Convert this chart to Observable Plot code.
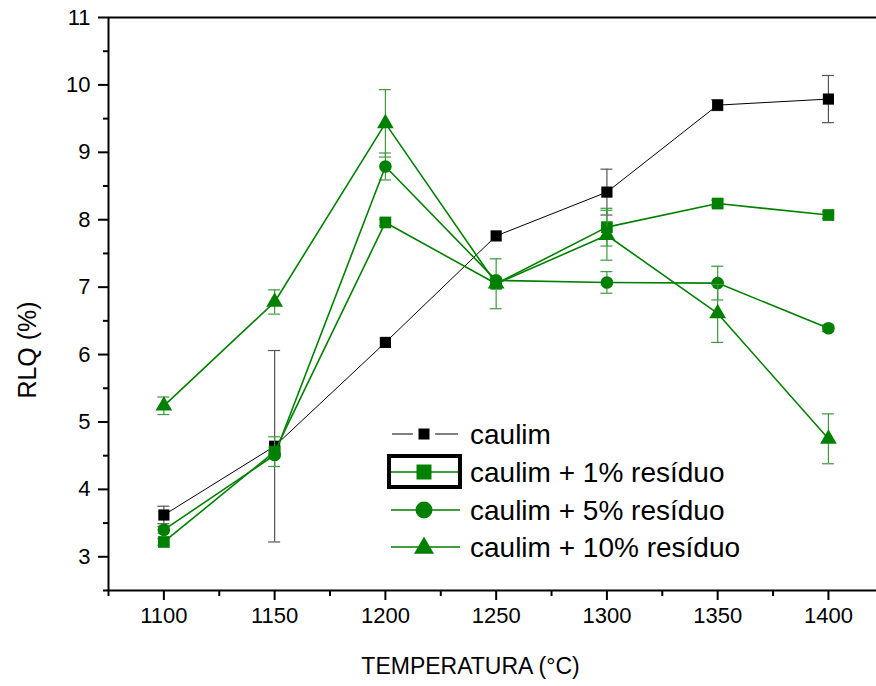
<!DOCTYPE html>
<html><head><meta charset="utf-8">
<script src="https://cdn.jsdelivr.net/npm/d3@7"></script>
<script src="https://cdn.jsdelivr.net/npm/@observablehq/plot@0.6"></script>
<style>
body{margin:0;background:#fff;}
#wrap{position:relative;width:876px;height:686px;font-family:"Liberation Sans",Arial,sans-serif;}
#wrap svg{display:block;}
#legend{position:absolute;left:0;top:0;pointer-events:none;}
</style></head><body><div id="wrap"></div>
<script>
// ---- data ----
const temperatures = [1100, 1150, 1200, 1250, 1300, 1350, 1400];
const seriesNames = ["caulim", "caulim + 1% resíduo", "caulim + 5% resíduo", "caulim + 10% resíduo"];
const caulim     = [3.62, 4.64, 6.18, 7.76, 8.41, 9.70, 9.79];
const caulimErr  = [0.13, 1.42, 0.00, 0.00, 0.34, 0.08, 0.35];
const res1       = [3.22, 4.56, 7.96, 7.05, 7.89, 8.24, 8.07];
const res1Err    = [0.05, 0.22, 0.05, 0.05, 0.28, 0.05, 0.05];
const res5       = [3.40, 4.51, 8.79, 7.10, 7.07, 7.06, 6.39];
const res5Err    = [0.05, 0.05, 0.20, 0.05, 0.16, 0.25, 0.05];
const res10      = [5.24, 6.78, 9.43, 7.05, 7.77, 6.61, 4.75];
const res10Err   = [0.13, 0.18, 0.50, 0.37, 0.37, 0.43, 0.37];
const yTicks = [3, 4, 5, 6, 7, 8, 9, 10, 11];
const yMinorTicks = [2.5, 3.5, 4.5, 5.5, 6.5, 7.5, 8.5, 9.5, 10.5];
const xTicks = [1100, 1150, 1200, 1250, 1300, 1350, 1400];
const xMinorTicks = [1075, 1125, 1175, 1225, 1275, 1325, 1375];
const xTitle = "TEMPERATURA (°C)";
const yTitle = "RLQ (%)";

// ---- styles ----
const GREEN = "#008000";
const styles = [
  {color: "#000", errColor: "#555", symbol: "square", r: 6.3, lineWidth: 1, legendSize: 11},
  {color: GREEN, errColor: "#3c9a3c", symbol: "square", r: 6.6, lineWidth: 1.6, legendSize: 15},
  {color: GREEN, errColor: "#3c9a3c", symbol: "circle", r: 6.3, lineWidth: 1.6, legendSize: 8.5},
  {color: GREEN, errColor: "#3c9a3c", symbol: "triangle", r: 6.2, lineWidth: 1.6, legendSize: 20}
];
const values = [caulim, res1, res5, res10];
const errors = [caulimErr, res1Err, res5Err, res10Err];
const capHalf = 2.7; // cap half width in °C

const seriesRows = seriesNames.map((name, i) =>
  temperatures.map((t, j) => ({series: name, t, v: values[i][j], e: errors[i][j]})));

const marks = [];
seriesRows.forEach((rows, i) => {
  const s = styles[i];
  const er = rows.filter(d => d.e > 0);
  marks.push(
    Plot.ruleX(er, {x: "t", y1: d => d.v - d.e, y2: d => d.v + d.e, stroke: s.errColor, strokeWidth: 1.2}),
    Plot.ruleY(er, {y: d => d.v + d.e, x1: d => d.t - capHalf, x2: d => d.t + capHalf, stroke: s.errColor, strokeWidth: 1.2}),
    Plot.ruleY(er, {y: d => d.v - d.e, x1: d => d.t - capHalf, x2: d => d.t + capHalf, stroke: s.errColor, strokeWidth: 1.2}),
    Plot.line(rows, {x: "t", y: "v", stroke: s.color, strokeWidth: s.lineWidth}),
    Plot.dot(rows, {x: "t", y: "v", symbol: s.symbol, r: s.r, fill: s.color, stroke: "none"})
  );
});

const fmt = d => String(d);
const chart = Plot.plot({
  width: 876, height: 686,
  marginLeft: 108, marginRight: 0, marginTop: 17, marginBottom: 96,
  style: {fontFamily: "'Liberation Sans', Arial, sans-serif", fontSize: "22px", color: "#000", background: "#fff", overflow: "visible"},
  x: {domain: [1075, 1421.7]},
  y: {domain: [2.5, 11]},
  marks: [
    Plot.axisX(xTicks, {tickSize: 10, tickPadding: 7, tickFormat: fmt, fontSize: 22, strokeWidth: 2, label: null}),
    Plot.axisX(xMinorTicks, {tickSize: 6, text: null, strokeWidth: 2, label: null}),
    Plot.axisY(yTicks, {tickSize: 10, tickPadding: 8, tickFormat: fmt, fontSize: 22, strokeWidth: 2, label: null}),
    Plot.axisY(yMinorTicks, {tickSize: 5, text: null, strokeWidth: 2, label: null}),
    Plot.ruleY([11], {stroke: "#000", strokeWidth: 2}),
    Plot.ruleY([2.5], {stroke: "#000", strokeWidth: 2}),
    Plot.ruleX([1075], {stroke: "#000", strokeWidth: 2}),
    ...marks,
    Plot.text([xTitle], {frameAnchor: "bottom", dx: -22, dy: 76, fontSize: 23, lineAnchor: "middle"})
  ]
});
const wrap = document.getElementById("wrap");
wrap.appendChild(chart);

// ---- overlay: y title and legend ----
const lg = d3.select(wrap).append("svg").attr("id", "legend").attr("width", 876).attr("height", 686)
  .style("font-family", "'Liberation Sans', Arial, sans-serif");
lg.append("text").attr("transform", "translate(27,350) rotate(-90)").attr("text-anchor", "middle")
  .attr("dy", "0.35em").attr("font-size", 25).attr("fill", "#000").text(yTitle);

const legendRowsY = [434, 472, 510, 547];
const symMap = {square: d3.symbolSquare, circle: d3.symbolCircle, triangle: d3.symbolTriangle};
seriesNames.forEach((name, i) => {
  const s = styles[i];
  const y = legendRowsY[i];
  const g = lg.append("g");
  if (i === 0) {
    g.append("line").attr("x1", 392).attr("x2", 413).attr("y1", y).attr("y2", y).attr("stroke", "#000").attr("stroke-width", 1);
    g.append("line").attr("x1", 435).attr("x2", 458).attr("y1", y).attr("y2", y).attr("stroke", "#000").attr("stroke-width", 1);
  } else {
    g.append("line").attr("x1", 391).attr("x2", 460).attr("y1", y).attr("y2", y).attr("stroke", s.color).attr("stroke-width", 1.6);
  }
  let area;
  if (s.symbol === "square") area = s.legendSize * s.legendSize;
  else if (s.symbol === "circle") area = Math.PI * s.legendSize * s.legendSize;
  else area = Math.sqrt(3) / 4 * s.legendSize * s.legendSize;
  g.append("path").attr("d", d3.symbol(symMap[s.symbol], area)()).attr("transform", `translate(424,${y + (s.symbol === "triangle" ? 1 : 0)})`).attr("fill", s.color);
  g.append("text").attr("x", 470).attr("y", y).attr("dy", "0.35em").attr("font-size", 28).attr("fill", "#000").text(name);
  if (i === 1) {
    g.append("rect").attr("x", 389).attr("y", 456).attr("width", 71).attr("height", 31).attr("fill", "none").attr("stroke", "#000").attr("stroke-width", 4);
  }
});
</script>
</body></html>
